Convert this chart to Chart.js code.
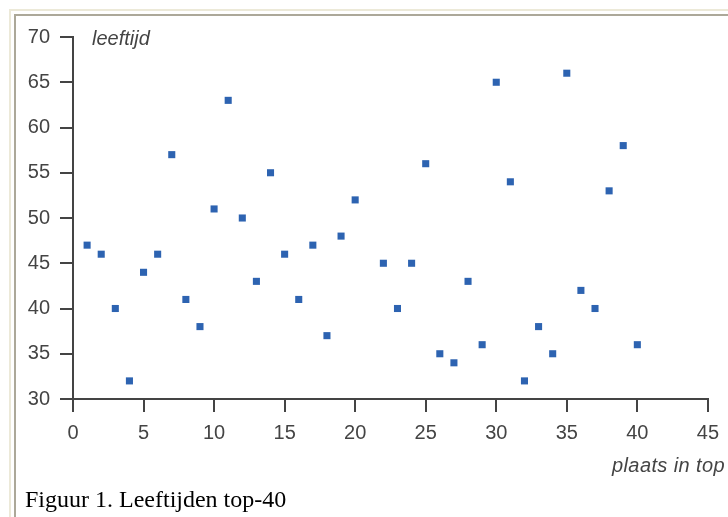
<!DOCTYPE html>
<html>
<head>
<meta charset="utf-8">
<script src="https://cdn.jsdelivr.net/npm/chart.js@4/dist/chart.umd.min.js"></script>
<style>
  html, body { margin:0; padding:0; background:#fff; width:728px; height:517px; overflow:hidden; }
  .frame1 { position:absolute; left:9px; top:9px; width:900px; height:700px; border-left:2px solid #ece9d8; border-top:2px solid #ece9d8; }
  .frame2 { position:absolute; left:14px; top:14px; width:900px; height:700px; border-left:2px solid #aca899; border-top:2px solid #aca899; }
  #wrap { position:absolute; left:0; top:0; width:728px; height:517px; }
  .lbl { position:absolute; font-family:"Liberation Sans", Arial, sans-serif; font-style:italic; font-size:20px; line-height:20px; color:#444; white-space:nowrap; }
  .cap { position:absolute; left:25px; top:487px; font-family:"Liberation Serif", "Times New Roman", serif; font-size:24px; line-height:24px; color:#000; white-space:nowrap; }
</style>
</head>
<body>
<div class="frame1"></div>
<div class="frame2"></div>
<div id="wrap"><canvas id="c" width="728" height="517"></canvas></div>
<div class="lbl" style="left:92px; top:28px;">leeftijd</div>
<div class="lbl" style="left:612px; top:455px; letter-spacing:0.4px;">plaats in top</div>
<div class="cap">Figuur 1. Leeftijden top-40</div>
<script>
// Chart data
const positions = [1, 2, 3, 4, 5, 6, 7, 8, 9, 10, 11, 12, 13, 14, 15, 16, 17, 18, 19, 20,
                   22, 23, 24, 25, 26, 27, 28, 29, 30, 31, 32, 33, 34, 35, 36, 37, 38, 39, 40];
const ages      = [47, 46, 40, 32, 44, 46, 57, 41, 38, 51, 63, 50, 43, 55, 46, 41, 47, 37, 48, 52,
                   45, 40, 45, 56, 35, 34, 43, 36, 65, 54, 32, 38, 35, 66, 42, 40, 53, 58, 36];
const xTicks = [0, 5, 10, 15, 20, 25, 30, 35, 40, 45];
const yTicks = [30, 35, 40, 45, 50, 55, 60, 65, 70];

const points = positions.map((p, i) => ({ x: p, y: ages[i] }));
const axisColor = '#444';
const tickFont = { family: '"Liberation Sans", Arial, sans-serif', size: 20 };

new Chart(document.getElementById('c'), {
  type: 'scatter',
  data: {
    datasets: [{
      data: points,
      pointStyle: 'rect',
      pointRadius: 5,
      pointHoverRadius: 5,
      borderWidth: 0,
      backgroundColor: '#2d63b1',
      borderColor: '#2d63b1'
    }]
  },
  options: {
    responsive: false,
    animation: false,
    events: [],
    layout: { padding: { left: 0, top: 37, right: 19, bottom: 0 } },
    plugins: { legend: { display: false }, tooltip: { enabled: false } },
    scales: {
      x: {
        type: 'linear',
        min: xTicks[0], max: xTicks[xTicks.length - 1],
        afterBuildTicks: s => { s.ticks = xTicks.map(v => ({ value: v })); },
        afterFit: s => { s.height = 118; },
        grid: { drawOnChartArea: false, drawTicks: true, tickLength: 13, color: axisColor, lineWidth: 2 },
        border: { display: true, color: axisColor, width: 2 },
        ticks: { color: axisColor, font: tickFont, padding: 9, maxRotation: 0, autoSkip: false }
      },
      y: {
        type: 'linear',
        min: yTicks[0], max: yTicks[yTicks.length - 1],
        afterBuildTicks: s => { s.ticks = yTicks.map(v => ({ value: v })); },
        afterFit: s => { s.width = 73; },
        grid: { drawOnChartArea: false, drawTicks: true, tickLength: 13, color: axisColor, lineWidth: 2 },
        border: { display: true, color: axisColor, width: 2 },
        ticks: { color: axisColor, font: tickFont, padding: 10, autoSkip: false }
      }
    }
  }
});
</script>
</body>
</html>
